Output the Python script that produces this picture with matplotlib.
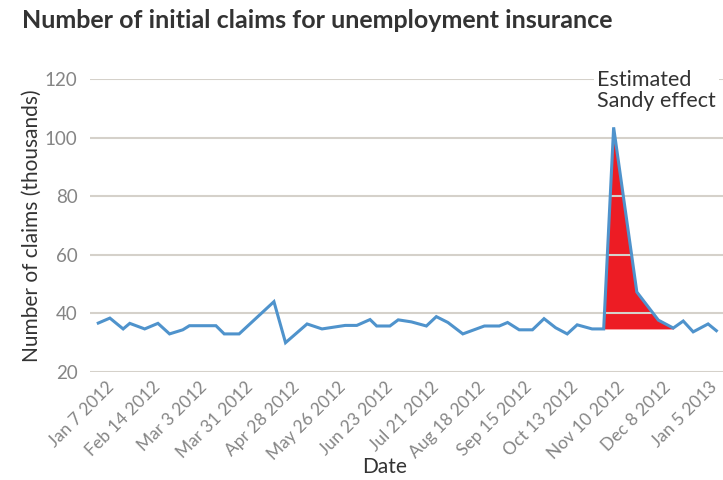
import matplotlib.pyplot as plt
import numpy as np
import pandas as pd

# weekly-ish readings of initial claims (thousands)
dates = ['2011-12-30', '2012-01-06', '2012-01-14', '2012-01-18', '2012-01-27',
         '2012-02-04', '2012-02-11', '2012-02-19', '2012-02-23', '2012-03-10',
         '2012-03-15', '2012-03-24', '2012-04-14', '2012-04-21', '2012-05-04',
         '2012-05-13', '2012-05-27', '2012-06-03', '2012-06-11', '2012-06-15',
         '2012-06-23', '2012-06-28', '2012-07-06', '2012-07-15', '2012-07-21',
         '2012-07-28', '2012-08-06', '2012-08-19', '2012-08-28', '2012-09-02',
         '2012-09-09', '2012-09-17', '2012-09-24', '2012-10-01', '2012-10-08',
         '2012-10-14', '2012-10-23', '2012-10-30', '2012-11-05', '2012-11-19',
         '2012-12-02', '2012-12-11', '2012-12-17', '2012-12-23', '2013-01-01',
         '2013-01-06']
claims = [36.7, 38.4, 34.7, 36.6, 34.7,
          36.6, 33.0, 34.4, 35.8, 35.8,
          33.0, 33.0, 44.0, 30.0, 36.4,
          34.7, 35.9, 35.9, 37.9, 35.7,
          35.7, 37.8, 37.1, 35.7, 38.9,
          36.9, 33.0, 35.7, 35.7, 36.9,
          34.4, 34.4, 38.2, 35.1, 33.0,
          36.1, 34.7, 34.7, 103.5, 47.3,
          37.7, 35.0, 37.4, 33.7, 36.4,
          34.1]

# Sandy effect: area above the pre-storm level
sandy_start = '2012-10-30'
sandy_end = '2012-12-11'
sandy_baseline = 34.7

tick_dates = ['2012-01-07', '2012-02-04', '2012-03-03', '2012-03-31', '2012-04-28',
              '2012-05-26', '2012-06-23', '2012-07-21', '2012-08-18', '2012-09-15',
              '2012-10-13', '2012-11-10', '2012-12-08', '2013-01-05']
tick_labels = ['Jan 7 2012', 'Feb 14 2012', 'Mar 3 2012', 'Mar 31 2012', 'Apr 28 2012',
               'May 26 2012', 'Jun 23 2012', 'Jul 21 2012', 'Aug 18 2012', 'Sep 15 2012',
               'Oct 13 2012', 'Nov 10 2012', 'Dec 8 2012', 'Jan 5 2013']
y_ticks = [20, 40, 60, 80, 100, 120]

plt.rcParams['font.family'] = ['Lato', 'DejaVu Sans']

x = pd.to_datetime(dates)
y = np.array(claims)

fig = plt.figure(figsize=(7.23, 4.8), dpi=100)
ax = fig.add_axes([90 / 723, 108 / 480, 633 / 723, 293 / 480])

mask = (x >= pd.Timestamp(sandy_start)) & (x <= pd.Timestamp(sandy_end))
ax.fill_between(x[mask], y[mask], sandy_baseline, color='#ed1c24', lw=0, zorder=1)
ax.plot(x, y, color='#4f93cc', lw=2.2, zorder=3, solid_joinstyle='miter')

ax.set_ylim(20, 120)
ax.set_yticks(y_ticks)
ax.set_xlim(pd.Timestamp('2011-12-25'), pd.Timestamp('2013-01-10'))
ax.set_xticks(pd.to_datetime(tick_dates))
ax.set_xticklabels(tick_labels, rotation=45, ha='right', va='center',
                   rotation_mode='anchor')

ax.grid(axis='y', color='#d5d1ca', lw=1.5, zorder=2)
ax.grid(axis='x', visible=False)
ax.set_axisbelow(False)
for s in ax.spines.values():
    s.set_visible(False)
ax.tick_params(axis='both', length=0, colors='#858585')
ax.tick_params(axis='y', pad=9, labelsize=13.5)
ax.tick_params(axis='x', pad=9, labelsize=12.5)

ax.set_ylabel('Number of claims (thousands)', fontsize=15, color='#333333', labelpad=0)
ax.yaxis.set_label_coords(-0.076, 0.5)
ax.set_xlabel('Date', fontsize=15, color='#333333')
ax.xaxis.set_label_coords(0.466, -0.29)

ax.text(pd.Timestamp('2012-10-26'), 116, 'Estimated\nSandy effect', fontsize=15.5,
        color='#333333', ha='left', va='center', linespacing=1.05,
        bbox=dict(facecolor='white', edgecolor='none', pad=2), zorder=5)

fig.text(22 / 723, 1 - 20 / 480, 'Number of initial claims for unemployment insurance',
         fontsize=18, fontweight='bold', color='#333333', ha='left', va='center')

fig.savefig('out.png', dpi=100)
